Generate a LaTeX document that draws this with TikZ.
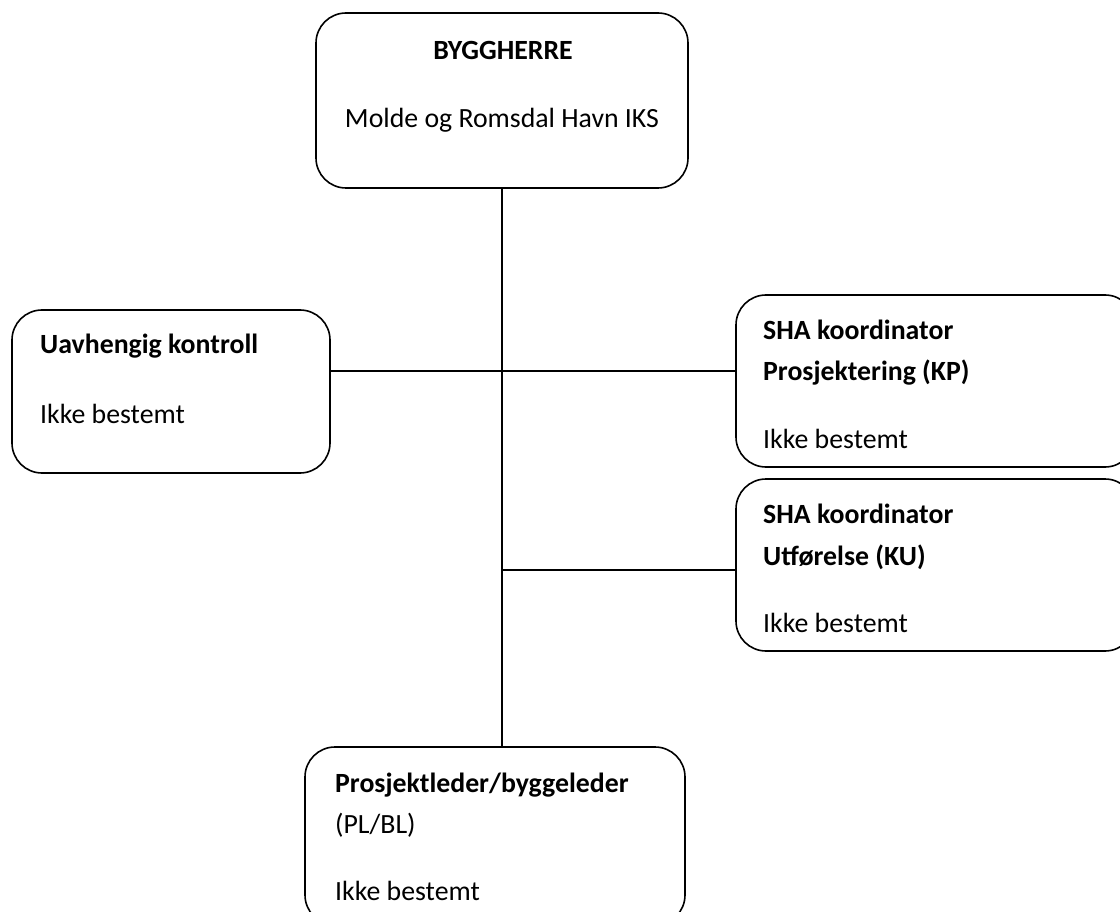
\documentclass[tikz,border=0pt]{standalone}
\usepackage{fontspec}
\setmainfont{Carlito}
\usetikzlibrary{positioning}

\tikzset{
  orgbox/.style={draw, line width=1.6pt, rounded corners=30pt, inner sep=0pt},
  orgtxt/.style={anchor=base west, inner sep=0pt, font=\fontsize{27.8}{40}\selectfont},
  orghead/.style={orgtxt, font=\fontsize{27.8}{40}\selectfont\bfseries},
  link/.style={line width=1.6pt},
}

\begin{document}
\begin{tikzpicture}[x=1pt,y=-1pt]
    \useasboundingbox (0,0) rectangle (1120,912);
    \clip (0,0) rectangle (1120,912);

    % Add the boxes
        \node[orgbox, minimum width=372pt, minimum height=175pt] (herre) at (502,100.5) {};
        \node[orgbox, minimum width=318pt, minimum height=163pt] (ctrl) at (171,391.5) {};
        \node[orgbox, minimum width=399pt, minimum height=172pt] (kp) at (935.5,381) {};
        \node[orgbox, minimum width=399pt, minimum height=172pt] (ku) at (935.5,565) {};
        \node[orgbox, minimum width=380pt, minimum height=178pt] (pl) at (495,836) {};

    % Texts
        \node[orghead, anchor=base] (herreA) at (503,60) {BYGGHERRE};
        \node[orgtxt, anchor=base] (herreB) at (502,128) {Molde og Romsdal Havn IKS};

        \node[orghead] (ctrlA) at (40,353) {Uavhengig kontroll};
        \node[orgtxt] (ctrlB) at (40,423) {Ikke bestemt};

        \node[orghead] (kpA) at (763,340) {SHA koordinator};
        \node[orghead] (kpB) at (763,380) {Prosjektering (KP)};
        \node[orgtxt] (kpC) at (763,448) {Ikke bestemt};

        \node[orghead] (kuA) at (763,523) {SHA koordinator};
        \node[orghead] (kuB) at (763,565) {Utførelse (KU)};
        \node[orgtxt] (kuC) at (763,632) {Ikke bestemt};

        \node[orghead] (plA) at (335,792) {Prosjektleder/byggeleder};
        \node[orgtxt] (plB) at (335,833) {(PL/BL)};
        \node[orgtxt] (plC) at (335,900) {Ikke bestemt};

    % Lines
        \coordinate (upper) at (502,371);
        \coordinate (lower) at (502,570);

        \draw[link] (herre.south) -- (herre.south |- pl.north);
        \draw[link] (ctrl.east |- upper) -- (kp.west |- upper);
        \draw[link] (lower) -- (ku.west |- lower);
\end{tikzpicture}
\end{document}
